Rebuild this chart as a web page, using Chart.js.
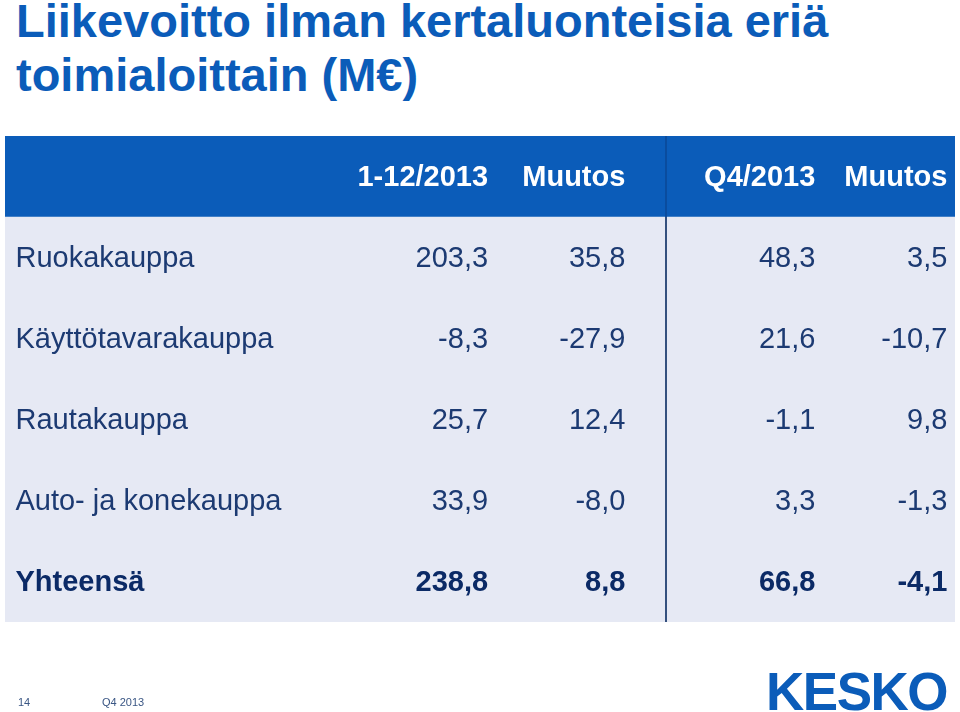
<!DOCTYPE html>
<html lang="fi">
<head>
<meta charset="utf-8">
<script src="https://cdn.jsdelivr.net/npm/chart.js@4.4.1/dist/chart.umd.min.js"></script>
<style>
  html, body { margin: 0; padding: 0; background: #ffffff; }
  body { width: 960px; height: 712px; position: relative; overflow: hidden;
         font-family: "Liberation Sans", Arial, Helvetica, sans-serif; }
  #title { position: absolute; left: 16px; top: -6px; margin: 0;
           font-size: 47px; line-height: 54px; font-weight: bold; color: #0b5cb9; }
  #chartWrap { position: absolute; left: 0; top: 0; width: 960px; height: 712px; }
  .foot { position: absolute; font-size: 11px; line-height: 13px; color: #3a5684; }
  #logo { position: absolute; left: 766px; top: 666px; font-size: 53px; line-height: 52px;
          font-weight: bold; color: #0b5cb9; letter-spacing: -1.5px; }
</style>
</head>
<body>
<h1 id="title">Liikevoitto ilman kertaluonteisia eriä<br>toimialoittain (M€)</h1>
<div id="chartWrap"><canvas id="c" width="960" height="712"></canvas></div>
<div class="foot" style="left:18px; top:696px;">14</div>
<div class="foot" style="left:102px; top:696px;">Q4 2013</div>
<div id="logo">KESKO</div>
<script>
// ---- data ----
const rowLabels = ['Ruokakauppa', 'Käyttötavarakauppa', 'Rautakauppa', 'Auto- ja konekauppa', 'Yhteensä'];
const columnHeaders = ['1-12/2013', 'Muutos', 'Q4/2013', 'Muutos'];
const ytd2013   = [203.3, -8.3, 25.7, 33.9, 238.8];
const ytdChange = [35.8, -27.9, 12.4, -8.0, 8.8];
const q4Value   = [48.3, 21.6, -1.1, 3.3, 66.8];
const q4Change  = [3.5, -10.7, 9.8, -1.3, -4.1];
const totalRowIndex = 4;

// ---- layout / style (percent of table width on x scale) ----
const labelX = 1.1;
const colRightX = [50.85, 65.3, 85.3, 99.2];
const dividerX = 69.6;
const FONT = '"Liberation Sans", Arial, Helvetica, sans-serif';
const headerBlue = '#0b5cb9';
const bodyBg = '#e6e9f4';
const bodyText = '#1c3a72';
const totalText = '#0b2a66';

const columns = [ytd2013, ytdChange, q4Value, q4Change];
const fmt = v => v.toFixed(1).replace('.', ',');

const categories = ['header'].concat(rowLabels);
const frame = categories.map(() => [0, 100]);
const frameColors = categories.map((_, i) => i === 0 ? headerBlue : bodyBg);

const tablePlugin = {
  id: 'tableText',
  afterDatasetsDraw(chart) {
    const ctx = chart.ctx;
    const xs = chart.scales.x, ys = chart.scales.y;
    const top = chart.chartArea.top, bottom = chart.chartArea.bottom;
    const headerBottom = (ys.getPixelForValue(0) + ys.getPixelForValue(1)) / 2;
    const dx = Math.round(xs.getPixelForValue(dividerX));
    ctx.save();
    // divider
    ctx.fillStyle = '#0a4c9e';
    ctx.fillRect(dx - 1, top, 2, headerBottom - top);
    ctx.fillStyle = '#34507e';
    ctx.fillRect(dx - 1, headerBottom, 2, bottom - headerBottom);
    ctx.textBaseline = 'middle';
    // header
    ctx.fillStyle = '#ffffff';
    ctx.font = 'bold 29px ' + FONT;
    ctx.textAlign = 'right';
    const hy = ys.getPixelForValue(0);
    columnHeaders.forEach((h, j) => ctx.fillText(h, xs.getPixelForValue(colRightX[j]), hy + 1));
    // rows
    rowLabels.forEach((lab, i) => {
      const y = ys.getPixelForValue(i + 1) + 1;
      const isTotal = i === totalRowIndex;
      ctx.font = (isTotal ? 'bold ' : '') + '29px ' + FONT;
      ctx.fillStyle = isTotal ? totalText : bodyText;
      ctx.textAlign = 'left';
      ctx.fillText(lab, xs.getPixelForValue(labelX), y);
      ctx.textAlign = 'right';
      columns.forEach((col, j) => ctx.fillText(fmt(col[i]), xs.getPixelForValue(colRightX[j]), y));
    });
    ctx.restore();
  }
};

new Chart(document.getElementById('c'), {
  type: 'bar',
  data: {
    labels: categories,
    datasets: [{
      data: frame,
      backgroundColor: frameColors,
      borderWidth: 0,
      barPercentage: 1,
      categoryPercentage: 1
    }]
  },
  options: {
    indexAxis: 'y',
    responsive: false,
    devicePixelRatio: 1,
    animation: false,
    layout: { padding: { left: 5, right: 5, top: 136, bottom: 90 } },
    scales: {
      x: { type: 'linear', min: 0, max: 100, display: false },
      y: { type: 'category', display: false, offset: true }
    },
    plugins: { legend: { display: false }, tooltip: { enabled: false }, title: { display: false } }
  },
  plugins: [tablePlugin]
});
</script>
</body>
</html>
